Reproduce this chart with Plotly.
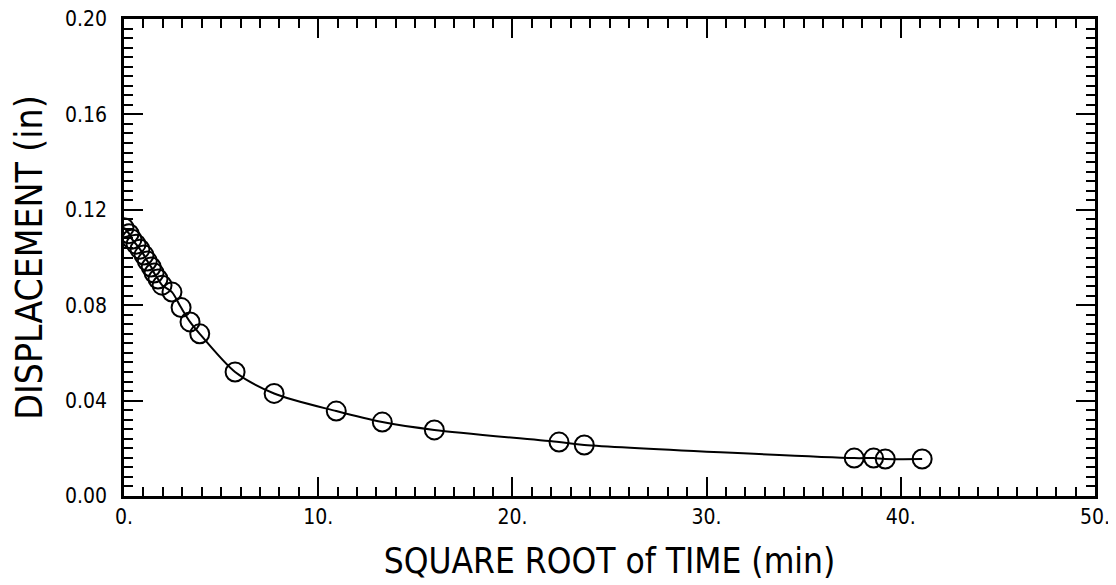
import plotly.graph_objects as go

# sqrt(time) in min^0.5
sqrt_time = [0.0, 0.26, 0.41, 0.62, 0.82, 1.03, 1.2, 1.4, 1.55, 1.75, 1.96,
             2.47, 2.94, 3.4, 3.9, 5.72, 7.73, 10.93, 13.3, 15.98, 22.4, 23.7,
             37.6, 38.6, 39.2, 41.1]
# displacement in inches
displacement = [0.1125, 0.110, 0.1077, 0.1056, 0.1035, 0.101, 0.0985, 0.096,
                0.0935, 0.091, 0.0884, 0.0855, 0.079, 0.073, 0.068, 0.052,
                0.043, 0.0356, 0.031, 0.0277, 0.0226, 0.0214, 0.0159, 0.0159,
                0.0155, 0.0155]

x_tickvals = [0, 10, 20, 30, 40, 50]
x_ticktext = ["0.", "10.", "20.", "30.", "40.", "50."]
y_tickvals = [0.0, 0.04, 0.08, 0.12, 0.16, 0.20]
y_ticktext = ["0.00", "0.04", "0.08", "0.12", "0.16", "0.20"]

FONT = "Liberation Sans Narrow, DejaVu Sans Condensed, Arial Narrow, sans-serif"

fig = go.Figure()
fig.add_trace(go.Scatter(
    x=sqrt_time, y=displacement, mode="lines",
    line=dict(color="black", width=2, shape="spline", smoothing=0.8),
    hoverinfo="skip", showlegend=False))
fig.add_trace(go.Scatter(
    x=sqrt_time, y=displacement, mode="markers",
    marker=dict(symbol="circle-open", size=19, color="black",
                line=dict(color="black", width=2)),
    showlegend=False))

axis_common = dict(
    showline=True, linecolor="black", linewidth=2.5, mirror="allticks",
    ticks="inside", ticklen=19, tickwidth=2, tickcolor="black",
    showgrid=False, zeroline=False, automargin=False,
    ticklabeloverflow="allow",
    tickfont=dict(family=FONT, size=21, color="black"),
)

fig.update_xaxes(
    range=[0, 50], tickvals=x_tickvals, ticktext=x_ticktext,
    minor=dict(ticks="inside", ticklen=9, tickwidth=2, tickcolor="black",
               dtick=1, showgrid=False),
    ticklabelstandoff=0,
    title=dict(text="SQUARE ROOT of TIME (min)",
               font=dict(family=FONT, size=35, color="black"), standoff=21),
    **axis_common)
fig.update_yaxes(
    range=[0, 0.20], tickvals=y_tickvals, ticktext=y_ticktext,
    minor=dict(ticks="inside", ticklen=9, tickwidth=2, tickcolor="black",
               dtick=0.004, showgrid=False),
    ticklabelstandoff=10,
    title=dict(text="DISPLACEMENT (in)",
               font=dict(family=FONT, size=37, color="black"), standoff=17),
    **axis_common)

fig.update_layout(
    width=1108, height=577,
    margin=dict(l=116, r=21, t=11, b=89),
    plot_bgcolor="white", paper_bgcolor="white",
)

fig.write_html("out.html")
